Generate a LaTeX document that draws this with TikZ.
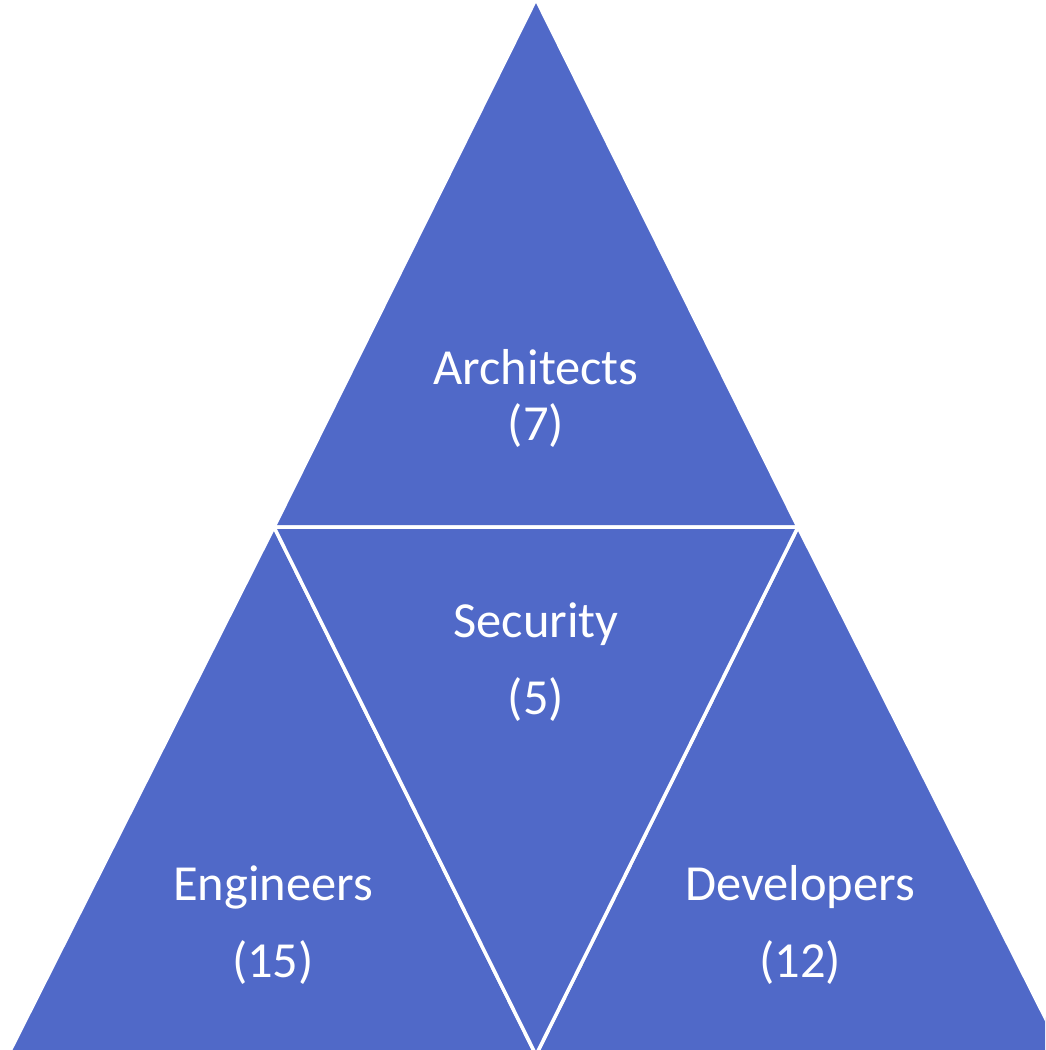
\documentclass[tikz,border=0pt]{standalone}
\usepackage{fontspec}
\setmainfont{Carlito}
\definecolor{triblue}{RGB}{80,105,200}
\tikzset{
  tri/.style={fill=triblue, draw=white, line width=3.5pt, line join=miter},
  lbl/.style={text=white, anchor=base, inner sep=0pt, font=\fontsize{50.5}{58}\selectfont}
}
\begin{document}
\begin{tikzpicture}[x=1pt,y=-1pt]
\useasboundingbox (0,0) rectangle (1045,1050);
\begin{scope}
\clip (0,0) rectangle (1045,1050);
\coordinate (A) at (536,-1);
\coordinate (ML) at (274,527);
\coordinate (MR) at (798,527);
\coordinate (BL) at (8,1055);
\coordinate (MB) at (536,1055);
\coordinate (BR) at (1064,1055);
\fill[white] (0,0) rectangle (1045,1050);
\draw[tri] (A) -- (MR) -- (ML) -- cycle;
\draw[tri] (ML) -- (MB) -- (BL) -- cycle;
\draw[tri] (MR) -- (BR) -- (MB) -- cycle;
\draw[tri] (ML) -- (MR) -- (MB) -- cycle;
\end{scope}
\node[lbl] (archName) at (536,384) {Architects};
\node[lbl] (archNum) at (536,440) {(7)};
\node[lbl] (secName) at (536,637) {Security};
\node[lbl] (secNum) at (536,714) {(5)};
\node[lbl] (engName) at (273,900) {Engineers};
\node[lbl] (engNum) at (273,977) {(15)};
\node[lbl] (devName) at (800,900) {Developers};
\node[lbl] (devNum) at (800,977) {(12)};
\end{tikzpicture}
\end{document}
